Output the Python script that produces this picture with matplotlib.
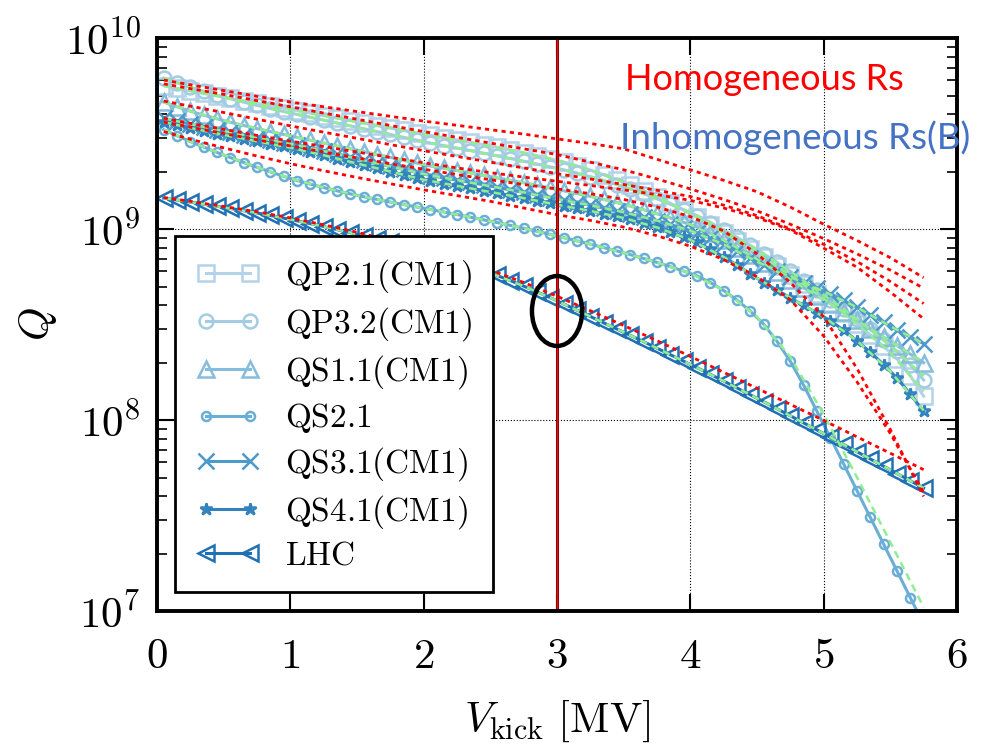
import numpy as np
import matplotlib.pyplot as plt
from matplotlib.patches import Ellipse

plt.rcParams['mathtext.fontset'] = 'cm'
plt.rcParams['font.family'] = 'serif'
plt.rcParams['font.serif'] = ['cmr10', 'DejaVu Serif']

# accelerating voltage grid of the measurements [MV]
V = np.round(np.arange(0.05, 5.76, 0.1), 2)
# grid of the fit curves [MV]
VF = [0.05, 0.25, 0.5, 0.75, 1.0, 1.25, 1.5, 1.75, 2.0, 2.25, 2.5, 2.75,
      3.0, 3.25, 3.5, 3.75, 4.0, 4.25, 4.5, 4.75, 5.0, 5.25, 5.5, 5.75]

names = ['QP2.1(CM1)', 'QP3.2(CM1)', 'QS1.1(CM1)', 'QS2.1', 'QS3.1(CM1)', 'QS4.1(CM1)', 'LHC']

# measured log10(Q)
qp21 = [9.750, 9.736, 9.723, 9.710, 9.697, 9.684, 9.671, 9.658, 9.645, 9.632,
        9.620, 9.607, 9.594, 9.581, 9.568, 9.555, 9.542, 9.529, 9.516, 9.503,
        9.490, 9.478, 9.466, 9.454, 9.441, 9.428, 9.414, 9.399, 9.384, 9.368,
        9.351, 9.331, 9.309, 9.285, 9.259, 9.231, 9.201, 9.169, 9.135, 9.099,
        9.061, 9.021, 8.980, 8.938, 8.895, 8.851, 8.805, 8.758, 8.710, 8.661,
        8.611, 8.559, 8.504, 8.446, 8.385, 8.321, 8.232, 8.125]
qp32 = [9.790, 9.765, 9.742, 9.721, 9.701, 9.682, 9.664, 9.647, 9.631, 9.615,
        9.600, 9.585, 9.570, 9.555, 9.540, 9.525, 9.510, 9.495, 9.480, 9.465,
        9.450, 9.437, 9.424, 9.411, 9.397, 9.383, 9.369, 9.355, 9.340, 9.325,
        9.310, 9.293, 9.274, 9.254, 9.233, 9.210, 9.185, 9.158, 9.130, 9.101,
        9.070, 9.034, 8.996, 8.956, 8.914, 8.870, 8.825, 8.778, 8.730, 8.681,
        8.630, 8.580, 8.528, 8.474, 8.418, 8.360, 8.290, 8.210]
qs11 = [9.665, 9.640, 9.617, 9.596, 9.577, 9.559, 9.542, 9.526, 9.510, 9.495,
        9.480, 9.465, 9.450, 9.435, 9.420, 9.405, 9.390, 9.375, 9.360, 9.345,
        9.330, 9.318, 9.306, 9.294, 9.281, 9.268, 9.255, 9.242, 9.228, 9.214,
        9.200, 9.186, 9.171, 9.155, 9.138, 9.120, 9.101, 9.080, 9.058, 9.035,
        9.010, 8.977, 8.941, 8.903, 8.863, 8.820, 8.777, 8.735, 8.693, 8.651,
        8.610, 8.566, 8.522, 8.478, 8.434, 8.390, 8.345, 8.300]
qs21 = [9.520, 9.488, 9.458, 9.429, 9.401, 9.374, 9.348, 9.323, 9.299, 9.276,
        9.254, 9.235, 9.217, 9.200, 9.184, 9.169, 9.155, 9.141, 9.128, 9.115,
        9.102, 9.089, 9.076, 9.062, 9.048, 9.034, 9.019, 9.004, 8.988, 8.972,
        8.955, 8.938, 8.921, 8.903, 8.885, 8.866, 8.846, 8.825, 8.803, 8.780,
        8.755, 8.720, 8.678, 8.628, 8.570, 8.502, 8.412, 8.307, 8.182, 8.045,
        7.908, 7.770, 7.630, 7.490, 7.350, 7.210, 7.070, 6.930]
qs31 = [9.580, 9.564, 9.549, 9.534, 9.520, 9.506, 9.492, 9.479, 9.466, 9.453,
        9.440, 9.424, 9.408, 9.392, 9.376, 9.360, 9.344, 9.328, 9.312, 9.296,
        9.280, 9.268, 9.256, 9.244, 9.231, 9.218, 9.205, 9.192, 9.178, 9.164,
        9.150, 9.138, 9.125, 9.111, 9.096, 9.080, 9.063, 9.044, 9.024, 9.003,
        8.980, 8.952, 8.920, 8.885, 8.848, 8.810, 8.779, 8.749, 8.719, 8.689,
        8.660, 8.626, 8.590, 8.552, 8.512, 8.470, 8.435, 8.400]
qs41 = [9.560, 9.544, 9.529, 9.514, 9.500, 9.486, 9.472, 9.459, 9.446, 9.433,
        9.420, 9.403, 9.386, 9.369, 9.352, 9.335, 9.318, 9.301, 9.284, 9.267,
        9.250, 9.238, 9.226, 9.214, 9.201, 9.188, 9.175, 9.162, 9.148, 9.134,
        9.120, 9.108, 9.095, 9.081, 9.066, 9.050, 9.030, 9.008, 8.984, 8.958,
        8.930, 8.894, 8.854, 8.811, 8.766, 8.720, 8.680, 8.640, 8.600, 8.560,
        8.520, 8.470, 8.415, 8.355, 8.290, 8.220, 8.135, 8.045]
lhc = [9.162, 9.152, 9.141, 9.130, 9.119, 9.108, 9.096, 9.084, 9.071, 9.057,
       9.043, 9.028, 9.013, 8.997, 8.981, 8.965, 8.948, 8.930, 8.911, 8.892,
       8.872, 8.851, 8.829, 8.806, 8.782, 8.757, 8.730, 8.701, 8.671, 8.640,
       8.608, 8.575, 8.542, 8.509, 8.476, 8.443, 8.410, 8.376, 8.342, 8.308,
       8.274, 8.239, 8.204, 8.168, 8.132, 8.096, 8.059, 8.022, 7.985, 7.948,
       7.910, 7.872, 7.834, 7.796, 7.758, 7.720, 7.682, 7.644]

# inhomogeneous Rs(B) fits, log10(Q) on VF
g_qp21 = [9.750, 9.723, 9.690, 9.658, 9.626, 9.594, 9.561, 9.529, 9.496, 9.466, 9.434, 9.399,
          9.360, 9.309, 9.245, 9.169, 9.080, 8.980, 8.873, 8.758, 8.636, 8.504, 8.353, 8.150]
g_qp32 = [9.790, 9.742, 9.691, 9.647, 9.607, 9.570, 9.532, 9.495, 9.457, 9.424, 9.390, 9.355,
          9.318, 9.274, 9.222, 9.158, 9.086, 8.996, 8.892, 8.778, 8.655, 8.528, 8.389, 8.230]
g_qs11 = [9.665, 9.617, 9.568, 9.526, 9.487, 9.450, 9.412, 9.375, 9.337, 9.306, 9.274, 9.242,
          9.207, 9.171, 9.129, 9.080, 9.023, 8.941, 8.842, 8.735, 8.630, 8.522, 8.412, 8.300]
g_qs21 = [9.520, 9.458, 9.388, 9.323, 9.265, 9.217, 9.176, 9.141, 9.108, 9.076, 9.041, 9.004,
          8.963, 8.921, 8.875, 8.825, 8.768, 8.680, 8.540, 8.330, 8.030, 7.700, 7.360, 7.020]
g_qs31 = [9.580, 9.549, 9.513, 9.479, 9.446, 9.408, 9.368, 9.328, 9.288, 9.256, 9.224, 9.192,
          9.157, 9.125, 9.088, 9.044, 8.992, 8.920, 8.829, 8.749, 8.674, 8.590, 8.491, 8.400]
g_qs41 = [9.560, 9.529, 9.493, 9.459, 9.426, 9.386, 9.343, 9.301, 9.258, 9.226, 9.194, 9.162,
          9.127, 9.095, 9.058, 9.008, 8.944, 8.854, 8.743, 8.640, 8.540, 8.415, 8.255, 8.050]
g_lhc = [9.162, 9.141, 9.113, 9.084, 9.050, 9.013, 8.973, 8.930, 8.882, 8.829, 8.770, 8.701,
         8.624, 8.542, 8.460, 8.376, 8.291, 8.204, 8.114, 8.022, 7.929, 7.834, 7.739, 7.644]

# homogeneous Rs fits, log10(Q) on VF
r_qp21 = [9.760, 9.735, 9.705, 9.672, 9.640, 9.607, 9.575, 9.542, 9.510, 9.480, 9.450, 9.420,
          9.390, 9.350, 9.310, 9.262, 9.210, 9.155, 9.095, 9.025, 8.950, 8.870, 8.785, 8.690]
r_qp32 = [9.780, 9.755, 9.725, 9.695, 9.665, 9.640, 9.615, 9.590, 9.565, 9.543, 9.520, 9.497,
          9.472, 9.448, 9.420, 9.365, 9.310, 9.255, 9.195, 9.115, 9.025, 8.940, 8.850, 8.745]
r_qs11 = [9.670, 9.643, 9.610, 9.575, 9.540, 9.507, 9.475, 9.442, 9.410, 9.380, 9.350, 9.320,
          9.290, 9.262, 9.233, 9.203, 9.170, 9.125, 9.070, 9.000, 8.920, 8.830, 8.725, 8.610]
r_qs21 = [9.510, 9.470, 9.425, 9.382, 9.342, 9.305, 9.270, 9.237, 9.205, 9.175, 9.145, 9.110,
          9.075, 9.045, 9.010, 8.965, 8.910, 8.840, 8.750, 8.630, 8.440, 8.200, 7.930, 7.620]
r_qs31 = [9.580, 9.553, 9.522, 9.490, 9.460, 9.432, 9.403, 9.375, 9.347, 9.320, 9.295, 9.272,
          9.250, 9.228, 9.205, 9.180, 9.150, 9.110, 9.060, 8.995, 8.900, 8.800, 8.670, 8.530]
r_qs41 = [9.560, 9.533, 9.500, 9.467, 9.435, 9.403, 9.372, 9.342, 9.313, 9.285, 9.258, 9.233,
          9.210, 9.185, 9.155, 9.115, 9.065, 8.990, 8.870, 8.720, 8.540, 8.270, 7.950, 7.600]
r_lhc = [9.165, 9.145, 9.118, 9.090, 9.058, 9.022, 8.983, 8.940, 8.893, 8.842, 8.785, 8.720,
         8.648, 8.572, 8.495, 8.415, 8.333, 8.250, 8.166, 8.082, 7.998, 7.912, 7.826, 7.740]

data = [qp21, qp32, qs11, qs21, qs31, qs41, lhc]
green = [g_qp21, g_qp32, g_qs11, g_qs21, g_qs31, g_qs41, g_lhc]
red = [r_qp21, r_qp32, r_qs11, r_qs21, r_qs31, r_qs41, r_lhc]

colors = ['#b3d3e8', '#a3cce3', '#86bcdc', '#6aaed6', '#4c99ca', '#3282be', '#2070b4']
markers = ['s', 'o', '^', 'o', 'x', '*', '<']
msizes = [11, 10, 11, 6.5, 11, 9, 12]

fig = plt.figure(figsize=(9.88, 7.5), dpi=100)
ax = fig.add_axes([0.159, 0.1853, 0.8096, 0.764])

handles = []
for q, c, m, ms, lab in zip(data, colors, markers, msizes, names):
    h, = ax.plot(V, 10 ** np.array(q), color=c, marker=m, ms=ms, mfc='none',
                 mew=1.8, lw=2.2, label=r'$\mathrm{' + lab + '}$')
    handles.append(h)

for g in green:
    ax.plot(VF, 10 ** np.array(g), color='#90ee90', ls=(0, (3, 2)), lw=1.8)
for r in red:
    ax.plot(VF, 10 ** np.array(r), color='red', ls=(0, (1.5, 1.5)), lw=2)

ax.axvline(3, color='#8b0000', lw=2.2)
ax.axvline(3, color='#e01010', lw=0.9)
ax.add_patch(Ellipse((0.5, 0.5236), 0.0627, 0.122, transform=ax.transAxes,
                     fill=False, ec='k', lw=3.2, zorder=5))

ax.set_yscale('log')
ax.set_xlim(0, 6)
ax.set_ylim(1e7, 1e10)
ax.set_xticks(range(7))
ax.set_xticklabels([r'$%d$' % i for i in range(7)])
ax.set_yticks([1e7, 1e8, 1e9, 1e10])
ax.set_yticklabels([r'$10^{7}$', r'$10^{8}$', r'$10^{9}$', r'$10^{10}$'])
ax.tick_params(which='both', direction='in', top=True, right=True, labelsize=31)
ax.tick_params(axis='x', which='major', length=12, width=1.5, pad=20)
ax.tick_params(axis='y', which='major', length=12, width=1.5, pad=12)
ax.tick_params(which='minor', length=7, width=1.2)
ax.grid(True, which='major', ls=':', color='k', lw=0.8)
for s in ax.spines.values():
    s.set_linewidth(2.8)

ax.set_xlabel(r'$V_{\mathrm{kick}}\ [\mathrm{MV}]$', fontsize=31, labelpad=16)
ax.set_ylabel(r'$Q$', fontsize=31, labelpad=4)

leg = ax.legend(handles=handles, loc='lower left', bbox_to_anchor=(0.022, 0.033),
                borderaxespad=0, fontsize=24, numpoints=2, handlelength=1.9,
                handletextpad=0.75, labelspacing=0.3, borderpad=0.65,
                fancybox=False, framealpha=1)
leg.get_frame().set_edgecolor('k')
leg.get_frame().set_linewidth(2)

fig.text(625 / 988, 1 - 80 / 750, 'Homogeneous Rs', color='red', fontsize=26,
         family='Lato', va='center', ha='left')
fig.text(620 / 988, 1 - 138 / 750, 'Inhomogeneous Rs(B)', color='#4472c4', fontsize=26.5,
         family='Lato', va='center', ha='left')

fig.savefig('out.png', dpi=100)
